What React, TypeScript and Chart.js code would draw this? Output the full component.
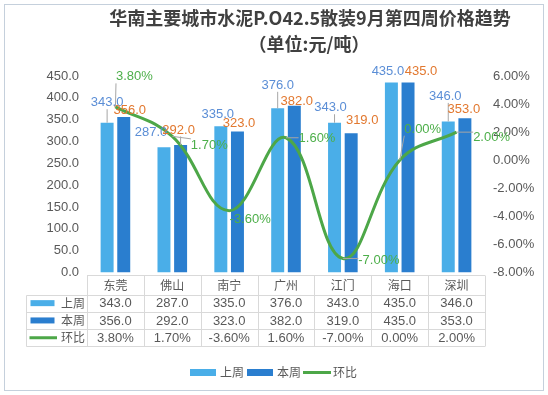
import React, { useEffect, useRef } from "react";
import { Chart, registerables } from "chart.js";

Chart.register(...registerables);

// ---------- data ----------
const categories = ["东莞", "佛山", "南宁", "广州", "江门", "海口", "深圳"];
const lastWeek = [343, 287, 335, 376, 343, 435, 346];
const thisWeek = [356, 292, 323, 382, 319, 435, 353];
const change = [3.8, 1.7, -3.6, 1.6, -7.0, 0.0, 2.0];
const seriesNames = ["上周", "本周", "环比"];
const leftAxis = { min: 0, max: 450, step: 50 };
const rightAxis = { min: -8, max: 6, step: 2 };
const titleLines = ["华南主要城市水泥P.O42.5散装9月第四周价格趋势", "（单位:元/吨）"];

// ---------- style ----------
const W = 548;
const H = 395;
const C_LIGHT = "#4AAEE8";
const C_DARK = "#2A7ECF";
const C_GREEN = "#4DA748";
const LBL_BLUE = "#5B8ED6";
const LBL_ORANGE = "#E2782F";
const LBL_GREEN = "#4DAF4A";
const TXT = "#595959";
const GRIDC = "#D9D9D9";
const LATIN = "'Liberation Sans', Arial, 'Noto Sans CJK SC', sans-serif";
const CJK = "'Noto Sans CJK SC', sans-serif";

// label nudges (relative offsets of label centres from their anchors)
const nudgeLast = [[0, -20], [-13, -14.5], [-3, -12], [0, -23], [-4, -15], [-3.5, -11], [-3, -25]];
const nudgeThis = [[6, -7], [-2, -15], [1.5, -8], [2.5, -4], [11, -13], [13, -11], [-1, -9]];
const nudgeChange = [[19, -30], [37, 9], [21, 9], [31, 1], [36, 1.5], [23, -31], [35, 5]];

const fmt1 = (v: number) => v.toFixed(1);
const fmtPct = (v: number) => v.toFixed(2) + "%";

const bgPlugin = {
  id: "bgBorder",
  beforeDraw(chart: any) {
    const ctx = chart.ctx;
    ctx.save();
    ctx.fillStyle = "#ffffff";
    ctx.fillRect(0, 0, W, H);
    ctx.strokeStyle = "#C5D0DC";
    ctx.lineWidth = 1;
    ctx.strokeRect(4.5, 4.5, 539, 386);
    ctx.restore();
  },
};

const labelPlugin = {
  id: "valueLabels",
  afterDatasetsDraw(chart: any) {
    const ctx = chart.ctx;
    ctx.save();
    ctx.font = `13px ${LATIN}`;
    ctx.textAlign = "center";
    ctx.textBaseline = "middle";
    const specs = [
      { ds: 0, values: lastWeek, f: fmt1, color: LBL_BLUE, nudge: nudgeLast },
      { ds: 1, values: thisWeek, f: fmt1, color: LBL_ORANGE, nudge: nudgeThis },
      { ds: 2, values: change, f: fmtPct, color: LBL_GREEN, nudge: nudgeChange },
    ];
    for (const s of specs) {
      const meta = chart.getDatasetMeta(s.ds);
      meta.data.forEach((el: any, i: number) => {
        const ax = el.x;
        const ay = el.y;
        const cx = ax + s.nudge[i][0];
        const cy = ay + s.nudge[i][1];
        const text = s.f(s.values[i]);
        const w = ctx.measureText(text).width;
        const x0 = cx - w / 2, x1 = cx + w / 2, y0 = cy - 6.5, y1 = cy + 6.5;
        const nx = Math.min(Math.max(ax, x0), x1);
        const ny = Math.min(Math.max(ay, y0), y1);
        const d = Math.hypot(nx - ax, ny - ay);
        if (d > 8) {
          ctx.strokeStyle = "#A6A6A6";
          ctx.lineWidth = 1;
          ctx.beginPath();
          ctx.moveTo(ax, ay);
          ctx.lineTo(nx, ny);
          ctx.stroke();
        }
        ctx.fillStyle = s.color;
        ctx.fillText(text, cx, cy);
      });
    }
    ctx.restore();
  },
};

const tablePlugin = {
  id: "dataTable",
  afterDraw(chart: any) {
    const ctx = chart.ctx;
    const area = chart.chartArea;
    const n = categories.length;
    const left = area.left;
    const right = area.right;
    const cw = (right - left) / n;
    const top = Math.round(area.bottom + 2) + 0.5;
    const hdrH = 19;
    const rowH = 17.3;
    const keyLeft = 26.5;
    const rowsTop = top + hdrH;
    const bottom = rowsTop + rowH * 3;
    ctx.save();
    ctx.strokeStyle = GRIDC;
    ctx.lineWidth = 1;
    ctx.beginPath();
    ctx.moveTo(left, top);
    ctx.lineTo(right, top);
    for (let r = 0; r <= 3; r++) {
      const y = Math.round(rowsTop + r * rowH) + 0.5;
      ctx.moveTo(keyLeft, y);
      ctx.lineTo(right, y);
    }
    ctx.moveTo(keyLeft, Math.round(rowsTop) + 0.5);
    ctx.lineTo(keyLeft, Math.round(bottom) + 0.5);
    for (let c = 0; c <= n; c++) {
      const x = Math.round(left + c * cw) + 0.5;
      ctx.moveTo(x, top);
      ctx.lineTo(x, Math.round(bottom) + 0.5);
    }
    ctx.stroke();

    ctx.textAlign = "center";
    ctx.textBaseline = "middle";
    ctx.fillStyle = TXT;
    ctx.font = `12px ${CJK}`;
    categories.forEach((c, i) => {
      ctx.fillText(c, left + cw * (i + 0.5), top + hdrH / 2);
    });
    const rows = [
      { vals: lastWeek.map(fmt1), color: C_LIGHT, kind: "bar" },
      { vals: thisWeek.map(fmt1), color: C_DARK, kind: "bar" },
      { vals: change.map(fmtPct), color: C_GREEN, kind: "line" },
    ];
    rows.forEach((row, r) => {
      const cy = rowsTop + rowH * (r + 0.5);
      if (row.kind === "bar") {
        ctx.fillStyle = row.color;
        ctx.fillRect(30.5, cy - 3, 24, 6);
      } else {
        ctx.strokeStyle = row.color;
        ctx.lineWidth = 3;
        ctx.beginPath();
        ctx.moveTo(29.5, cy);
        ctx.lineTo(57, cy);
        ctx.stroke();
      }
      ctx.fillStyle = TXT;
      ctx.font = `12px ${CJK}`;
      ctx.fillText(seriesNames[r], 73, cy);
      ctx.font = `13px ${LATIN}`;
      row.vals.forEach((v, i) => {
        ctx.fillText(v, left + cw * (i + 0.5), cy + 0.5);
      });
    });

    // legend
    const ly = 372.5;
    ctx.font = `12px ${CJK}`;
    ctx.textAlign = "left";
    ctx.fillStyle = C_LIGHT;
    ctx.fillRect(190, ly - 3.5, 26, 7);
    ctx.fillStyle = TXT;
    ctx.fillText(seriesNames[0], 220, ly);
    ctx.fillStyle = C_DARK;
    ctx.fillRect(247, ly - 3.5, 26, 7);
    ctx.fillStyle = TXT;
    ctx.fillText(seriesNames[1], 277, ly);
    ctx.strokeStyle = C_GREEN;
    ctx.lineWidth = 3;
    ctx.beginPath();
    ctx.moveTo(303, ly);
    ctx.lineTo(331, ly);
    ctx.stroke();
    ctx.fillStyle = TXT;
    ctx.fillText(seriesNames[2], 333, ly);

    // title
    ctx.textAlign = "center";
    ctx.fillStyle = "#404040";
    ctx.font = `bold 18px ${CJK}`;
    ctx.fillText(titleLines[0], 310, 18);
    ctx.fillText(titleLines[1], 309, 44);
    ctx.restore();
  },
};

export default function App() {
  const ref = useRef<HTMLCanvasElement | null>(null);
  useEffect(() => {
    document.body.style.margin = "0";
    const canvas = ref.current;
    if (!canvas) return;
    const chart = new Chart(canvas, {
      type: "bar",
      data: {
        labels: categories,
        datasets: [
          {
            type: "bar",
            label: seriesNames[0],
            data: lastWeek,
            backgroundColor: C_LIGHT,
            yAxisID: "y",
            order: 1,
            categoryPercentage: 0.585,
            barPercentage: 0.78,
          } as any,
          {
            type: "bar",
            label: seriesNames[1],
            data: thisWeek,
            backgroundColor: C_DARK,
            yAxisID: "y",
            order: 1,
            categoryPercentage: 0.585,
            barPercentage: 0.78,
          } as any,
          {
            type: "line",
            label: seriesNames[2],
            data: change,
            borderColor: C_GREEN,
            borderWidth: 3,
            pointRadius: 0,
            tension: 0.4,
            yAxisID: "y1",
            order: 0,
          } as any,
        ],
      },
      options: {
        responsive: false,
        animation: false,
        devicePixelRatio: 1,
        layout: { padding: { top: 76, bottom: H - 272.5, left: 0, right: 0 } },
        plugins: { legend: { display: false }, title: { display: false }, tooltip: { enabled: false } },
        scales: {
          x: { display: false, offset: true },
          y: {
            position: "left",
            min: leftAxis.min,
            max: leftAxis.max,
            grid: { display: false, drawTicks: false },
            border: { display: false },
            ticks: {
              stepSize: leftAxis.step,
              padding: 8,
              color: TXT,
              font: { size: 13, family: LATIN },
              callback: (v: any) => Number(v).toFixed(1),
            },
            afterFit: (s: any) => {
              s.width = 87;
            },
          },
          y1: {
            position: "right",
            min: rightAxis.min,
            max: rightAxis.max,
            grid: { display: false, drawTicks: false },
            border: { display: false },
            ticks: {
              stepSize: rightAxis.step,
              padding: 8,
              color: TXT,
              font: { size: 13, family: LATIN },
              callback: (v: any) => Number(v).toFixed(2) + "%",
            },
            afterFit: (s: any) => {
              s.width = W - 485;
            },
          },
        },
      },
      plugins: [bgPlugin, labelPlugin, tablePlugin],
    });
    return () => chart.destroy();
  }, []);
  return (
    <div style={{ position: "absolute", left: 0, top: 0, width: W, height: H, background: "#fff" }}>
      <canvas ref={ref} width={W} height={H} style={{ display: "block", width: W, height: H }} />
    </div>
  );
}
